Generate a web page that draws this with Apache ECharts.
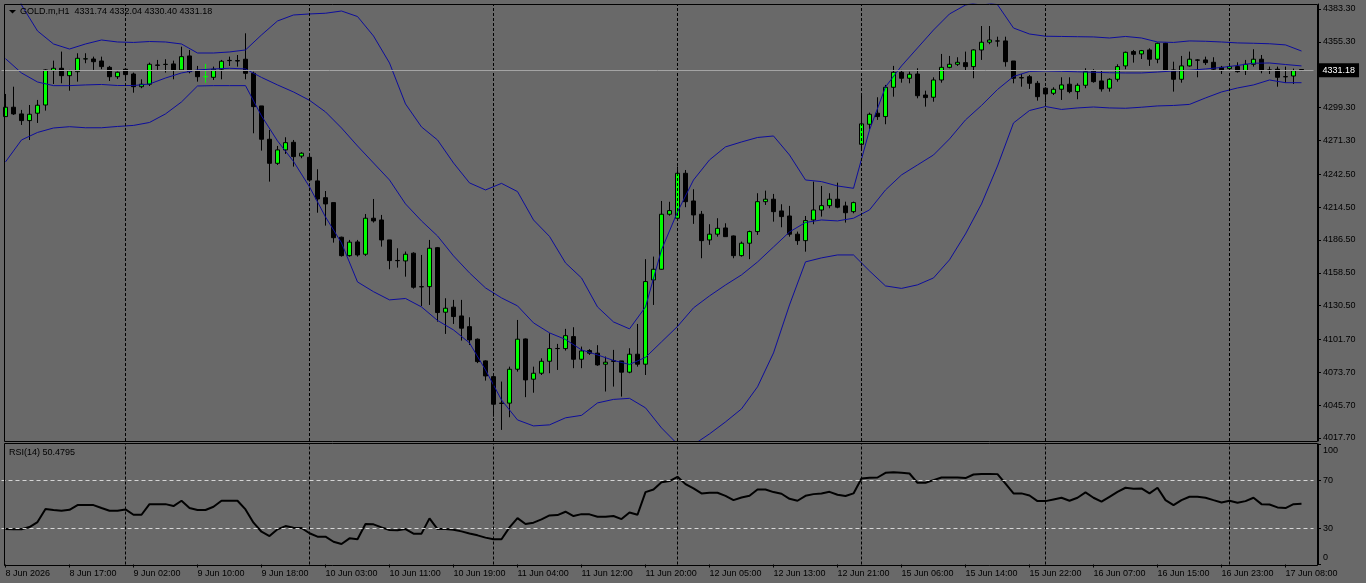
<!DOCTYPE html>
<html>
<head>
<meta charset="utf-8">
<title>GOLD.m,H1</title>
<script src="https://cdn.jsdelivr.net/npm/echarts@6/dist/echarts.min.js"></script>
<style>
  html, body { margin: 0; padding: 0; background: #696969; }
  #chart { width: 1366px; height: 583px; }
</style>
</head>
<body>
<div id="chart"></div>
<script>
// trading sessions: day, first hour, last hour (H1 bars)
const sessions = [['8 Jun', 9, 23], ['9 Jun', 1, 23], ['10 Jun', 1, 23], ['11 Jun', 1, 23],
  ['12 Jun', 1, 23], ['15 Jun', 1, 23], ['16 Jun', 1, 23], ['17 Jun', 1, 10]];

const priceTicks = [4383.30, 4355.30, 4327.30, 4299.30, 4271.30, 4242.50, 4214.50,
  4186.50, 4158.50, 4130.50, 4101.70, 4073.70, 4045.70, 4017.70];
const rsiTicks = [100, 70, 30, 0];
const rsiLevels = [70, 30];
const lastPrice = 4331.18;

const open = [
  4291.6, 4299.6, 4293.9, 4288.2, 4294.5, 4301.5, 4330.8, 4332.8, 4326.5, 4329.9,
  4340.7, 4340.7, 4339.0, 4333.6, 4325.6, 4332.0, 4327.9, 4317.1, 4319.2, 4335.6,
  4336.0, 4336.5, 4331.4, 4343.3, 4330.8, 4325.6, 4325.1, 4332.0, 4339.3, 4339.3,
  4340.5, 4328.5, 4300.7, 4272.3, 4251.8, 4263.2, 4269.7, 4258.0, 4256.9, 4236.8,
  4222.5, 4218.3, 4188.8, 4173.1, 4184.8, 4174.3, 4205.0, 4203.5, 4186.5, 4169.0,
  4168.6, 4175.2, 4146.7, 4146.7, 4179.9, 4124.9, 4129.2, 4121.7, 4112.6, 4101.9,
  4083.4, 4070.0, 4047.4, 4047.4, 4076.3, 4102.1, 4067.8, 4072.9, 4083.1, 4093.9,
  4093.9, 4104.1, 4084.8, 4092.2, 4090.0, 4080.6, 4083.5, 4083.4, 4073.8, 4089.1,
  4080.6, 4152.4, 4161.5, 4208.4, 4205.0, 4243.3, 4219.7, 4208.4, 4186.5, 4191.4,
  4196.7, 4189.9, 4173.1, 4183.7, 4193.6, 4219.1, 4221.2, 4211.2, 4206.9, 4191.4,
  4185.9, 4203.5, 4212.0, 4215.7, 4221.2, 4215.5, 4210.6, 4268.0, 4285.1, 4294.5,
  4291.6, 4316.6, 4329.4, 4324.3, 4327.9, 4310.0, 4308.1, 4322.8, 4333.6, 4336.2,
  4337.6, 4334.2, 4348.4, 4355.0, 4356.1, 4356.1, 4339.0, 4324.8, 4325.6, 4320.0,
  4315.8, 4311.5, 4314.9, 4319.2, 4312.9, 4318.3, 4330.8, 4322.0, 4315.8, 4323.4,
  4334.8, 4347.0, 4345.0, 4348.4, 4340.5, 4354.1, 4331.4, 4323.4, 4334.8, 4339.9,
  4339.9, 4337.9, 4333.6, 4332.5, 4334.2, 4330.8, 4336.2, 4340.5, 4331.4, 4332.0,
  4325.7, 4326.2, 4331.74
];
const high = [
  4310.9, 4317.1, 4297.3, 4301.5, 4305.8, 4332.0, 4339.3, 4347.0, 4331.4, 4345.6,
  4345.6, 4342.7, 4342.7, 4334.8, 4330.0, 4332.6, 4329.1, 4323.4, 4337.6, 4339.9,
  4340.5, 4339.3, 4351.2, 4348.4, 4334.8, 4336.5, 4334.2, 4339.9, 4342.7, 4344.1,
  4362.6, 4329.9, 4300.7, 4280.2, 4266.6, 4274.0, 4271.7, 4261.2, 4258.9, 4246.7,
  4228.2, 4218.3, 4189.3, 4186.5, 4186.5, 4208.6, 4221.4, 4207.8, 4186.5, 4179.4,
  4176.6, 4176.0, 4173.7, 4186.5, 4180.5, 4136.8, 4135.4, 4135.4, 4120.6, 4102.5,
  4083.9, 4070.9, 4065.8, 4078.5, 4118.3, 4102.5, 4078.5, 4085.6, 4107.0, 4097.9,
  4110.7, 4112.1, 4095.6, 4093.4, 4096.8, 4087.1, 4092.8, 4083.4, 4094.2, 4114.9,
  4170.1, 4172.3, 4219.7, 4219.0, 4249.0, 4246.1, 4229.7, 4211.2, 4199.9, 4205.0,
  4200.7, 4190.3, 4185.1, 4194.4, 4226.3, 4228.5, 4225.7, 4216.9, 4215.5, 4193.6,
  4206.9, 4236.2, 4232.5, 4226.3, 4235.3, 4219.1, 4219.1, 4310.0, 4295.0, 4308.1,
  4318.6, 4334.8, 4331.4, 4329.9, 4332.8, 4313.7, 4325.1, 4345.0, 4343.3, 4342.2,
  4347.0, 4349.0, 4368.8, 4368.8, 4359.7, 4359.7, 4339.0, 4327.9, 4327.1, 4322.0,
  4316.6, 4316.6, 4325.1, 4325.1, 4320.0, 4332.8, 4332.0, 4330.8, 4324.3, 4336.2,
  4347.0, 4348.4, 4348.4, 4349.8, 4354.6, 4354.6, 4338.4, 4343.3, 4347.0, 4340.5,
  4342.7, 4342.2, 4334.8, 4335.0, 4337.9, 4339.9, 4349.0, 4344.1, 4334.2, 4334.2,
  4334.2, 4332.5, 4332.04
];
const low = [
  4291.3, 4293.0, 4284.5, 4271.7, 4286.2, 4296.7, 4319.4, 4320.0, 4313.7, 4321.4,
  4337.1, 4331.4, 4332.0, 4322.0, 4323.7, 4323.9, 4312.0, 4315.8, 4317.7, 4331.4,
  4329.1, 4323.4, 4331.0, 4328.5, 4321.4, 4320.5, 4322.8, 4323.4, 4334.8, 4334.2,
  4323.4, 4277.4, 4262.6, 4236.2, 4250.4, 4259.8, 4249.0, 4256.1, 4236.2, 4209.7,
  4198.7, 4184.2, 4172.3, 4172.3, 4172.3, 4172.9, 4201.3, 4180.8, 4161.5, 4162.9,
  4155.2, 4145.0, 4130.2, 4131.1, 4116.9, 4106.4, 4114.9, 4100.7, 4097.0, 4081.5,
  4066.6, 4035.9, 4024.6, 4035.4, 4074.3, 4052.5, 4056.3, 4071.4, 4072.9, 4075.7,
  4092.2, 4077.2, 4077.2, 4088.5, 4079.2, 4057.3, 4061.5, 4053.0, 4072.9, 4078.5,
  4071.4, 4131.1, 4161.2, 4207.2, 4204.2, 4214.4, 4200.2, 4170.9, 4182.3, 4189.3,
  4189.0, 4170.9, 4172.3, 4170.1, 4190.8, 4216.3, 4202.1, 4197.3, 4189.3, 4182.3,
  4176.5, 4199.9, 4206.4, 4213.5, 4213.5, 4201.3, 4209.2, 4263.2, 4280.8, 4288.8,
  4285.1, 4308.6, 4320.5, 4320.0, 4307.2, 4300.1, 4304.3, 4320.5, 4332.8, 4334.8,
  4330.8, 4324.3, 4339.9, 4353.3, 4351.2, 4334.2, 4320.0, 4317.1, 4315.2, 4305.2,
  4303.5, 4310.0, 4305.8, 4311.5, 4306.4, 4315.8, 4320.5, 4312.9, 4312.9, 4321.4,
  4332.0, 4337.6, 4340.7, 4334.8, 4337.1, 4330.8, 4312.9, 4320.5, 4334.2, 4325.1,
  4335.6, 4330.8, 4327.9, 4331.4, 4329.1, 4327.1, 4334.2, 4328.5, 4327.9, 4317.1,
  4320.5, 4319.4, 4330.40
];
const close = [
  4299.6, 4293.9, 4288.2, 4293.6, 4301.3, 4331.4, 4332.8, 4326.5, 4330.5, 4341.3,
  4340.9, 4338.4, 4334.2, 4325.6, 4329.4, 4327.4, 4317.1, 4319.2, 4336.2, 4335.3,
  4336.2, 4331.4, 4342.7, 4329.9, 4325.6, 4325.7, 4332.0, 4338.8, 4339.5, 4339.0,
  4328.5, 4300.1, 4272.3, 4251.8, 4263.2, 4269.4, 4257.5, 4260.4, 4237.6, 4221.4,
  4217.2, 4188.4, 4173.1, 4184.6, 4173.7, 4205.0, 4202.7, 4186.5, 4168.9, 4168.8,
  4174.3, 4146.2, 4146.5, 4179.4, 4124.6, 4128.3, 4121.2, 4111.3, 4101.3, 4082.8,
  4070.6, 4046.5, 4047.2, 4076.3, 4101.9, 4067.2, 4072.9, 4083.1, 4093.9, 4094.0,
  4104.9, 4084.8, 4091.9, 4090.0, 4080.0, 4082.3, 4083.0, 4073.8, 4089.1, 4080.6,
  4151.0, 4161.5, 4208.4, 4211.5, 4243.3, 4219.1, 4207.8, 4185.9, 4191.4, 4196.4,
  4189.3, 4173.1, 4183.7, 4193.6, 4219.1, 4221.2, 4210.6, 4206.4, 4191.4, 4185.9,
  4203.0, 4212.0, 4215.7, 4221.2, 4214.4, 4209.7, 4218.3, 4285.4, 4293.6, 4291.6,
  4316.6, 4329.4, 4324.3, 4327.7, 4309.4, 4307.8, 4322.8, 4333.6, 4336.2, 4337.9,
  4334.2, 4348.4, 4355.0, 4356.9, 4356.0, 4338.4, 4324.3, 4324.6, 4320.0, 4308.6,
  4310.9, 4314.9, 4318.6, 4312.9, 4318.3, 4329.9, 4321.4, 4315.2, 4323.4, 4334.2,
  4346.4, 4344.7, 4347.8, 4340.5, 4354.1, 4330.8, 4323.4, 4334.8, 4340.5, 4339.7,
  4337.6, 4332.0, 4330.8, 4334.2, 4329.9, 4336.2, 4340.5, 4330.8, 4331.2, 4325.1,
  4325.5, 4330.8, 4331.18
];
// bars whose doji cross is drawn green
const limeDoji = [25];

// Bollinger bands (20, 2), read every second bar
const bbUpper = [
  4428.0, 4386.7, 4364.6, 4353.5, 4349.2, 4353.5, 4356.9, 4355.2, 4354.8, 4355.6,
  4355.2, 4353.5, 4345.8, 4345.8, 4346.7, 4348.4, 4361.2, 4373.1, 4378.2, 4379.1,
  4379.7, 4381.6, 4376.9, 4360.3, 4337.3, 4302.4, 4282.8, 4271.7, 4252.1, 4235.1,
  4229.1, 4234.7, 4227.7, 4203.5, 4189.5, 4166.9, 4154.1, 4129.4, 4116.6, 4110.7,
  4129.4, 4178.0, 4210.4, 4237.6, 4254.7, 4265.8, 4270.0, 4273.8, 4275.1, 4258.9,
  4237.6, 4236.2, 4232.5, 4230.5, 4280.2, 4316.9, 4334.8, 4350.1, 4365.4, 4379.1,
  4386.7, 4389.5, 4387.0, 4367.1, 4362.0, 4360.1, 4359.9, 4359.7, 4359.5, 4358.6,
  4359.9, 4358.6, 4355.2, 4354.8, 4356.1, 4355.8, 4355.2, 4354.4, 4354.1, 4353.7,
  4352.7, 4347.5
];
const bbMiddle = [
  4341.0, 4328.8, 4321.1, 4318.0, 4318.0, 4318.6, 4319.0, 4318.1, 4318.1, 4319.4,
  4324.5, 4328.8, 4331.4, 4332.2, 4332.8, 4332.2, 4325.0, 4318.6, 4312.6, 4305.5,
  4295.6, 4281.9, 4266.6, 4252.1, 4237.6, 4217.2, 4202.7, 4189.9, 4172.9, 4158.4,
  4145.6, 4137.1, 4130.3, 4115.8, 4107.3, 4101.7, 4092.8, 4088.5, 4083.8, 4080.4,
  4086.4, 4099.6, 4112.8, 4128.6, 4138.8, 4148.1, 4156.7, 4167.7, 4180.5, 4193.3,
  4201.4, 4203.5, 4202.7, 4205.0, 4212.1, 4229.1, 4241.9, 4250.4, 4258.9, 4272.6,
  4288.8, 4301.1, 4314.7, 4325.8, 4330.1, 4330.5, 4330.2, 4329.8, 4329.4, 4329.0,
  4328.8, 4328.8, 4329.6, 4330.5, 4331.1, 4332.2, 4333.5, 4335.2, 4337.1, 4337.3,
  4336.0, 4334.8
];
const bbLower = [
  4253.0, 4271.7, 4278.1, 4281.9, 4283.0, 4282.1, 4282.1, 4283.2, 4284.1, 4286.6,
  4293.9, 4304.1, 4317.7, 4318.0, 4318.0, 4318.0, 4292.2, 4270.9, 4253.4, 4231.7,
  4206.1, 4183.9, 4150.7, 4142.4, 4135.4, 4136.6, 4129.4, 4117.9, 4109.8, 4098.7,
  4075.7, 4050.1, 4033.1, 4028.0, 4028.9, 4034.9, 4037.0, 4047.6, 4050.6, 4051.5,
  4043.4, 4026.3, 4012.5, 4012.0, 4021.2, 4031.4, 4042.5, 4061.3, 4090.2, 4131.1,
  4167.8, 4171.2, 4173.7, 4173.7, 4160.1, 4147.3, 4145.2, 4148.2, 4154.1, 4169.5,
  4191.6, 4217.2, 4249.5, 4286.2, 4296.8, 4300.2, 4297.7, 4299.0, 4299.8, 4299.0,
  4298.7, 4299.6, 4300.7, 4301.1, 4302.0, 4307.5, 4312.6, 4316.0, 4318.6, 4322.8,
  4320.5, 4320.5
];

const rsi = [
  29.4, 29.2, 29.2, 31.1, 35.2, 46.0, 45.2, 44.6, 45.4, 49.3,
  49.3, 49.3, 46.9, 44.6, 44.6, 45.7, 41.3, 41.3, 50.1, 50.1,
  50.1, 48.5, 52.9, 46.9, 45.2, 45.2, 47.9, 52.9, 52.9, 52.9,
  45.7, 34.7, 27.2, 23.6, 29.2, 31.9, 30.5, 30.3, 25.9, 23.1,
  23.1, 18.9, 17.0, 21.7, 20.9, 33.6, 33.3, 30.8, 28.6, 28.4,
  29.4, 25.6, 25.6, 38.3, 29.4, 29.4, 28.9, 27.5, 25.8, 24.2,
  22.3, 20.9, 20.9, 30.8, 38.5, 33.6, 34.7, 37.4, 40.7, 41.0,
  43.8, 40.2, 41.8, 41.6, 39.6, 39.6, 40.2, 37.7, 43.2, 41.3,
  60.1, 62.3, 68.3, 69.2, 72.8, 66.7, 63.1, 59.0, 59.5, 59.5,
  57.0, 53.4, 55.6, 57.0, 62.3, 62.3, 60.1, 58.7, 54.5, 52.9,
  57.0, 58.4, 59.0, 60.3, 57.9, 56.8, 59.0, 71.4, 71.9, 72.2,
  76.1, 76.6, 76.1, 75.5, 67.8, 67.8, 70.0, 72.2, 72.2, 72.2,
  71.7, 74.7, 75.2, 75.2, 75.0, 67.2, 59.0, 59.0, 57.3, 52.6,
  52.6, 54.0, 55.4, 52.9, 55.4, 59.8, 55.4, 52.1, 56.2, 60.3,
  63.7, 62.8, 63.1, 59.0, 63.7, 53.4, 49.3, 53.4, 56.2, 56.2,
  55.4, 53.4, 51.5, 52.9, 51.2, 52.6, 55.4, 50.1, 49.8, 47.4,
  46.8, 50.1, 50.4795
];

// hourly category labels, plus one empty slot right of the last bar
const categories = [];
sessions.forEach(([d, h0, h1]) => {
  for (let h = h0; h <= h1; h++) categories.push(d + ' ' + String(h).padStart(2, '0') + ':00');
});
categories.push(' ');
const daySeps = categories.filter(c => c.endsWith(' 01:00'));

const candles = open.map((o, i) => {
  const item = { value: [o, close[i], low[i], high[i]] };
  if (limeDoji.includes(i)) item.itemStyle = { borderColor: '#00ff00', borderColorDoji: '#00ff00' };
  return item;
});
const bandPairs = arr => arr.map((v, k) => [2 * k, v]);

const font = "'Liberation Sans', Arial, sans-serif";
const fs = 9;
const bandLine = { color: '#0d0d9c', width: 1 };
const last = open.length - 1;

const chart = echarts.init(document.getElementById('chart'));
chart.setOption({
  animation: false,
  backgroundColor: '#696969',
  textStyle: { fontFamily: font, fontSize: fs, color: '#000' },
  grid: [
    { left: 1.5, top: 4, width: 1312, height: 437, outerBoundsMode: 'none', containLabel: false },
    { left: 1.5, top: 444, width: 1312, height: 120.5, outerBoundsMode: 'none', containLabel: false }
  ],
  xAxis: [
    {
      type: 'category', gridIndex: 0, data: categories, boundaryGap: true,
      axisLine: { show: false }, axisTick: { show: false }, axisLabel: { show: false }, splitLine: { show: false }
    },
    {
      type: 'category', gridIndex: 1, data: categories, boundaryGap: true,
      axisLine: { show: false },
      axisTick: { show: true, interval: 7, alignWithLabel: true, length: 3, lineStyle: { color: '#000' } },
      axisLabel: {
        interval: 7, align: 'left', margin: 5, color: '#000', fontSize: fs, fontFamily: font,
        hideOverlap: false,
        formatter: (v, i) => (i === 0 ? '8 Jun 2026' : v)
      },
      splitLine: { show: false }
    }
  ],
  yAxis: [
    {
      type: 'value', gridIndex: 0, position: 'right', offset: 4.5, min: 4015.14, max: 4387.57,
      axisLine: { show: true, lineStyle: { color: '#000' } },
      axisTick: { show: true, length: 3, customValues: priceTicks, lineStyle: { color: '#000' } },
      axisLabel: {
        customValues: priceTicks, margin: 5, color: '#000', fontSize: fs, fontFamily: font,
        formatter: v => v.toFixed(2)
      },
      splitLine: { show: false }
    },
    {
      type: 'value', gridIndex: 1, position: 'right', offset: 4.5, min: 0, max: 100,
      axisLine: { show: true, lineStyle: { color: '#000' } },
      axisTick: { show: true, length: 3, customValues: rsiTicks, lineStyle: { color: '#000' } },
      axisLabel: {
        customValues: rsiTicks, margin: 5, color: '#000', fontSize: fs, fontFamily: font,
        hideOverlap: false,
        // keep the end labels inside the panel like the terminal does
        formatter: v => (v === 100 ? '{dn|100}' : v === 0 ? '{up|0}' : String(v)),
        rich: {
          dn: { padding: [13, 0, 0, 0], fontSize: fs, fontFamily: font, color: '#000' },
          up: { padding: [0, 0, 13, 0], fontSize: fs, fontFamily: font, color: '#000' }
        }
      },
      splitLine: { show: false }
    }
  ],
  graphic: [
    { type: 'rect', z: 50, silent: true, shape: { x: 4.5, y: 4.5, width: 1313, height: 437 },
      style: { fill: 'none', stroke: '#000', lineWidth: 1 } },
    { type: 'rect', z: 50, silent: true, shape: { x: 4.5, y: 443.5, width: 1313, height: 122 },
      style: { fill: 'none', stroke: '#000', lineWidth: 1 } },
    { type: 'polygon', z: 50, silent: true, shape: { points: [[9, 10], [16, 10], [12.5, 13.5]] },
      style: { fill: '#000' } },
    { type: 'text', z: 50, silent: true, x: 20, y: 7,
      style: {
        text: 'GOLD.m,H1  ' + [open[last], high[last], low[last], close[last]].map(v => v.toFixed(2)).join(' '),
        fill: '#000', font: fs + 'px ' + font
      } },
    { type: 'text', z: 50, silent: true, x: 9, y: 448,
      style: { text: 'RSI(14) ' + rsi[last].toFixed(4), fill: '#000', font: fs + 'px ' + font } }
  ],
  series: [
    {
      // day separators and bid line, kept behind the candles
      type: 'line', xAxisIndex: 0, yAxisIndex: 0, data: [], z: 1, silent: true,
      markLine: {
        silent: true, symbol: ['none', 'none'], animation: false,
        lineStyle: { color: '#000', type: [3, 2], width: 1 },
        label: { show: false },
        emphasis: { disabled: true },
        data: daySeps.map(d => ({ xAxis: d })).concat([{
          yAxis: lastPrice,
          lineStyle: { color: '#a4a4a4', type: 'solid', width: 1 },
          label: {
            show: true, position: 'end', distance: 5, formatter: lastPrice.toFixed(2),
            backgroundColor: '#000', color: '#fff', padding: [3, 4, 2, 4], fontSize: fs, fontFamily: font
          }
        }])
      }
    },
    {
      type: 'candlestick', xAxisIndex: 0, yAxisIndex: 0, data: candles, barWidth: 5, z: 3,
      itemStyle: {
        color: '#00ff00', color0: '#000000', borderColor: '#000000', borderColor0: '#000000',
        borderColorDoji: '#000000', borderWidth: 1
      },
      emphasis: { disabled: true }
    },
    { type: 'line', xAxisIndex: 0, yAxisIndex: 0, data: bandPairs(bbUpper), symbol: 'none', z: 4,
      lineStyle: bandLine, emphasis: { disabled: true }, silent: true },
    { type: 'line', xAxisIndex: 0, yAxisIndex: 0, data: bandPairs(bbMiddle), symbol: 'none', z: 4,
      lineStyle: bandLine, emphasis: { disabled: true }, silent: true },
    { type: 'line', xAxisIndex: 0, yAxisIndex: 0, data: bandPairs(bbLower), symbol: 'none', z: 4,
      lineStyle: bandLine, emphasis: { disabled: true }, silent: true },
    {
      type: 'line', xAxisIndex: 1, yAxisIndex: 1, data: rsi, symbol: 'none', z: 3, silent: true,
      lineStyle: { color: '#000', width: 2 }, emphasis: { disabled: true },
      markLine: {
        silent: true, symbol: ['none', 'none'], animation: false, label: { show: false },
        emphasis: { disabled: true },
        data: rsiLevels.map(v => ({ yAxis: v, lineStyle: { color: '#d6d6d6', type: [4, 3], width: 1 } }))
          .concat(daySeps.map(d => ({ xAxis: d, lineStyle: { color: '#000', type: [3, 2], width: 1 } })))
      }
    }
  ]
});
</script>
</body>
</html>
